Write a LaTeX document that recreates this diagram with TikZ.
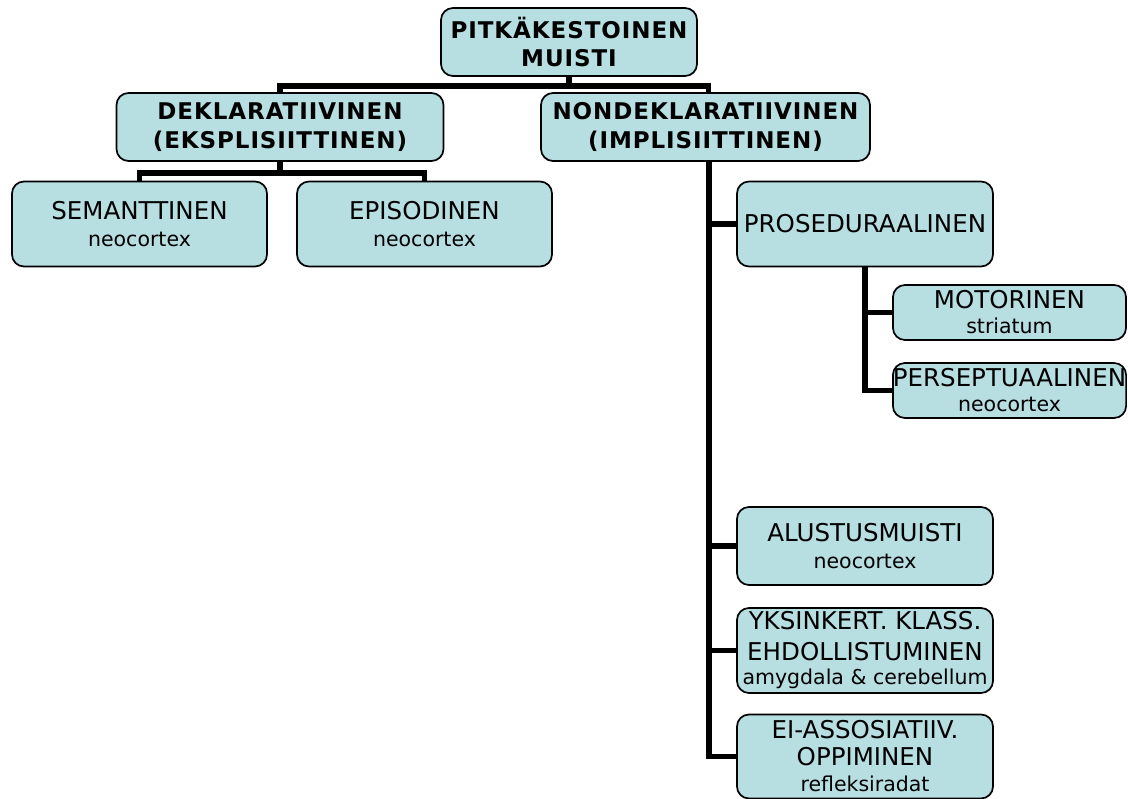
\documentclass[tikz,border=0pt]{standalone}
\usepackage{fontspec}
\setmainfont{DejaVu Sans}
\newfontfamily\titlefont{DejaVu Sans}[LetterSpace=4]
\definecolor{boxfill}{HTML}{B7DEE1}
\newcommand\capsz{\fontsize{24.5}{27}\selectfont}
\newcommand\subsz{\fontsize{20.5}{27}\selectfont}
\newcommand\titsz{\fontsize{23}{28}\selectfont}
\begin{document}
\begin{tikzpicture}[x=1pt,y=-1pt,
  box/.style={draw=black, line width=1.7pt, fill=boxfill, rounded corners=12pt,
    align=center, inner sep=0pt, font=\capsz},
  titlebox/.style={box, font=\titlefont\bfseries\titsz},
  conn/.style={line width=5.5pt, draw=black, line join=miter}]
\useasboundingbox (0,0) rectangle (1128,799);
\node[titlebox, minimum width=256pt, minimum height=68pt] (root) at (569,42) {PITKÄKESTOINEN\\MUISTI};
\node[titlebox, minimum width=327pt, minimum height=68pt] (dekl) at (280,127) {DEKLARATIIVINEN\\[1pt](EKSPLISIITTINEN)};
\node[titlebox, minimum width=329pt, minimum height=68pt] (nondekl) at (705.5,127) {NONDEKLARATIIVINEN\\[1pt](IMPLISIITTINEN)};
\node[box, minimum width=255pt, minimum height=85pt] (sem) at (139.5,224) {SEMANTTINEN\\{\subsz neocortex}};
\node[box, minimum width=255pt, minimum height=85pt] (epi) at (424.5,224) {EPISODINEN\\{\subsz neocortex}};
\node[box, minimum width=256pt, minimum height=85pt] (pros) at (865,224) {PROSEDURAALINEN};
\node[box, minimum width=233pt, minimum height=55pt] (mot) at (1009.5,312.5) {MOTORINEN\\[-2pt]{\subsz striatum}};
\node[box, minimum width=233pt, minimum height=55pt] (per) at (1009.5,390.5) {PERSEPTUAALINEN\\[-2pt]{\subsz neocortex}};
\node[box, minimum width=256pt, minimum height=78pt] (alu) at (865,546) {ALUSTUSMUISTI\\{\subsz neocortex}};
\node[box, minimum width=256pt, minimum height=85pt] (yks) at (865,650.5) {YKSINKERT. KLASS.\\[4pt]EHDOLLISTUMINEN\\[-3pt]{\subsz amygdala \& cerebellum}};
\node[box, minimum width=256pt, minimum height=84pt] (ei) at (865,756.5) {EI-ASSOSIATIIV.\\OPPIMINEN\\[-1pt]{\subsz refleksiradat}};
% connectors
\draw[conn] (root.south) -- ++(0,9) coordinate (rj) -| (dekl.north);
\draw[conn] (rj) -| ([xshift=3pt]nondekl.north);
\draw[conn] (dekl.south) -- ++(0,11) coordinate (dj) -| (sem.north);
\draw[conn] (dj) -| (epi.north);
\coordinate (t0) at ([xshift=3.5pt]nondekl.south);
\draw[conn] (t0) |- (ei.west);
\draw[conn] (t0 |- pros.west) -- (pros.west);
\draw[conn] (t0 |- alu.west) -- (alu.west);
\draw[conn] (t0 |- yks.west) -- (yks.west);
\draw[conn] (pros.south) |- (per.west);
\draw[conn] (pros.south |- mot.west) -- (mot.west);
\end{tikzpicture}
\end{document}
